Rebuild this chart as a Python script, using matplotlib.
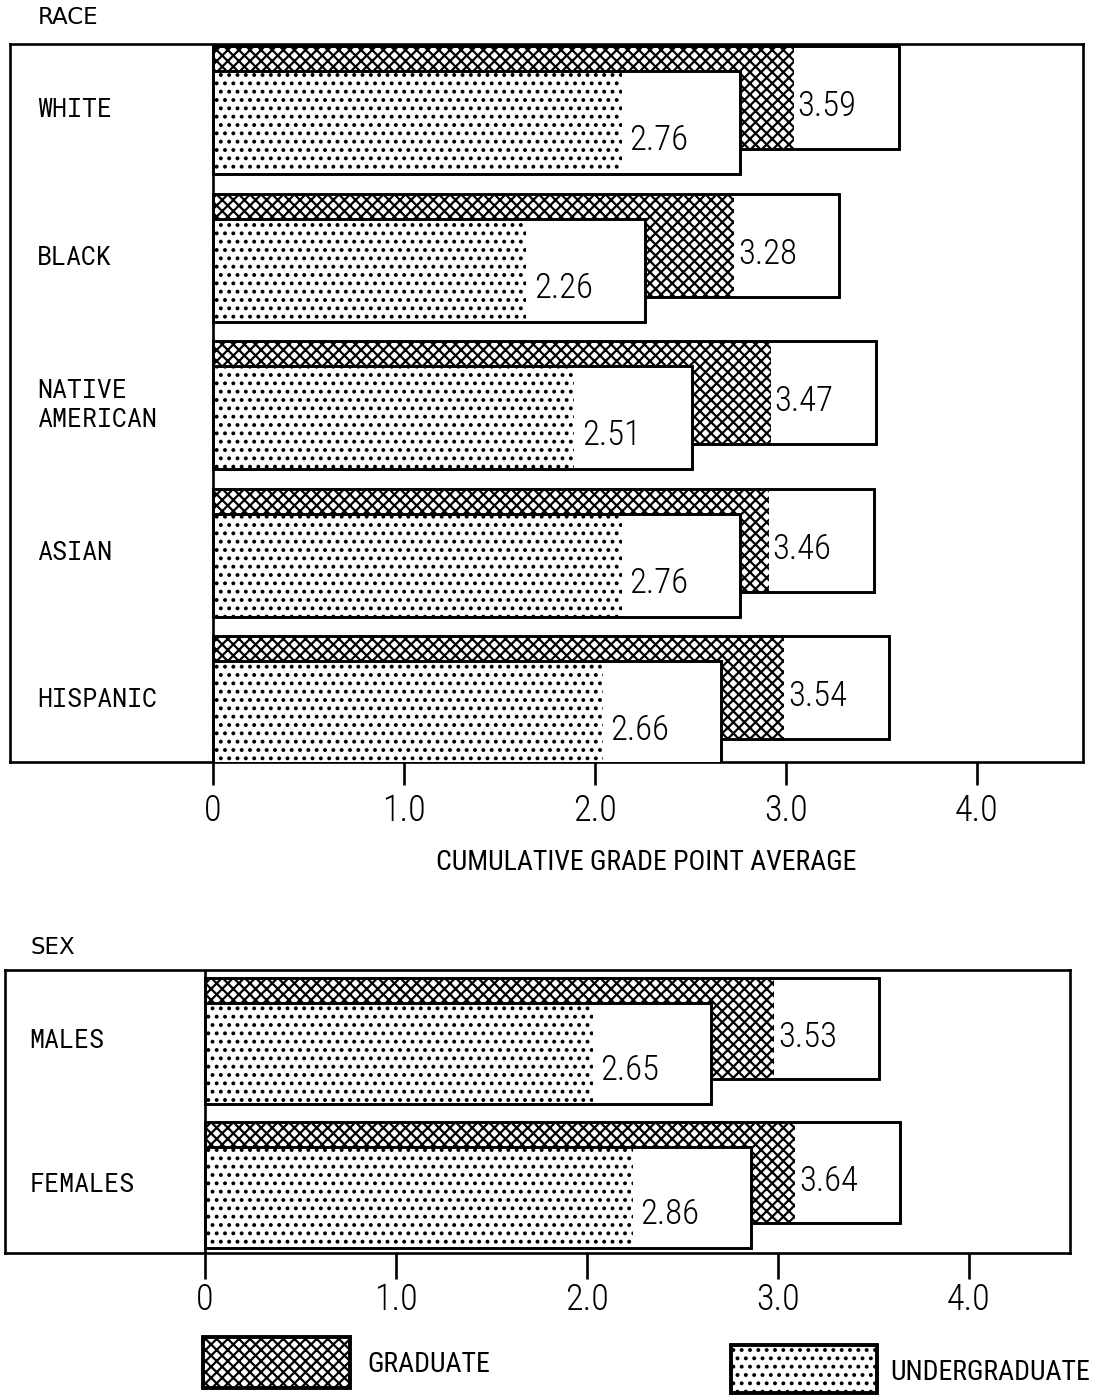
import matplotlib
matplotlib.use("Agg")
import matplotlib.pyplot as plt
from matplotlib.patches import Rectangle

# data
race_groups = ['WHITE', 'BLACK', 'NATIVE\nAMERICAN', 'ASIAN', 'HISPANIC']
race_grad = [3.59, 3.28, 3.47, 3.46, 3.54]
race_under = [2.76, 2.26, 2.51, 2.76, 2.66]

sex_groups = ['MALES', 'FEMALES']
sex_grad = [3.53, 3.64]
sex_under = [2.65, 2.86]

gpa_ticks = [0, 1, 2, 3, 4]
gpa_ticklabels = ['0', '1.0', '2.0', '3.0', '4.0']

NARROW = ['Roboto Condensed', 'Liberation Sans Narrow', 'Roboto', 'DejaVu Sans']
MONO = ['Roboto Mono', 'DejaVu Sans Mono']
LW = 1.9
GAP_G = 0.55   # white space left at end of bar for the value label
GAP_U = 0.62
H = 0.70
OFF = 0.085

plt.rcParams['hatch.linewidth'] = 1.6

W, Hpx = 1094, 1396
fig = plt.figure(figsize=(W / 100, Hpx / 100), dpi=100)


def fig_rect(x0, y0, x1, y1):
    return [x0 / W, 1 - y1 / Hpx, (x1 - x0) / W, (y1 - y0) / Hpx]


def draw_panel(ax, groups, grad, under, xlim, ylim, ticklen, tickpad):
    for i, (name, g, u) in enumerate(zip(groups, grad, under)):
        yg = i - OFF
        yu = i + OFF
        # graduate box + crosshatch
        ax.barh(yg, g, height=H, left=0, facecolor='white', edgecolor='black',
                linewidth=LW, zorder=2)
        ax.barh(yg, g - GAP_G, height=H, left=0, facecolor='none', edgecolor='black',
                linewidth=0, hatch='xxx', zorder=2.1)
        ax.barh(yg, g, height=H, left=0, facecolor='none', edgecolor='black',
                linewidth=LW, zorder=2.2)
        # undergraduate box + dots
        ax.barh(yu, u, height=H, left=0, facecolor='white', edgecolor='black',
                linewidth=LW, zorder=3)
        ax.barh(yu, u - GAP_U, height=H, left=0, facecolor='none', edgecolor='black',
                linewidth=0, hatch='..', zorder=3.1)
        ax.barh(yu, u, height=H, left=0, facecolor='none', edgecolor='black',
                linewidth=LW, zorder=3.2)
        ax.text(g - GAP_G + 0.02, yg + 0.06, '%.2f' % g, fontsize=25, family=NARROW,
                fontweight='light', ha='left', va='center', zorder=4)
        ax.text(u - GAP_U + 0.04, yu + 0.12, '%.2f' % u, fontsize=25, family=NARROW,
                fontweight='light', ha='left', va='center', zorder=4)
        ax.text(-0.92, i, name, fontsize=18, family=MONO, ha='left', va='center',
                linespacing=1.25)
    ax.axvline(0, color='black', linewidth=LW, zorder=5)
    ax.set_xlim(*xlim)
    ax.set_ylim(*ylim)
    ax.set_yticks([])
    ax.set_xticks(gpa_ticks)
    ax.set_xticklabels(gpa_ticklabels, family=NARROW, fontsize=26, fontweight='light')
    ax.tick_params(axis='x', direction='out', length=ticklen, width=LW, pad=tickpad)
    for s in ax.spines.values():
        s.set_linewidth(LW)


ax1 = fig.add_axes(fig_rect(10, 44, 1083, 762))
draw_panel(ax1, race_groups, race_grad, race_under,
           (-1.063, 4.555), (4.42, -0.45), 16.5, 6)

ax2 = fig.add_axes(fig_rect(5, 970, 1070, 1253))
draw_panel(ax2, sex_groups, sex_grad, sex_under,
           (-1.047, 4.529), (1.472, -0.493), 19, 2)

fig.text(646 / W, 1 - 862 / Hpx, 'CUMULATIVE GRADE POINT AVERAGE', family=NARROW,
         fontsize=20, ha='center', va='center')
fig.text(38 / W, 1 - 18 / Hpx, 'RACE', fontsize=16.5, ha='left', va='center')
fig.text(30 / W, 1 - 947 / Hpx, 'SEX', fontsize=16.5, ha='left', va='center')

# legend drawn in pixel space
lax = fig.add_axes([0, 0, 1, 80 / Hpx])
lax.set_xlim(0, W)
lax.set_ylim(Hpx, Hpx - 80)
lax.axis('off')
lax.add_patch(Rectangle((203, 1337), 147, 51, facecolor='white', edgecolor='black',
                        linewidth=0, hatch='xxx'))
lax.add_patch(Rectangle((203, 1337), 147, 51, facecolor='none', edgecolor='black',
                        linewidth=2.8))
lax.text(367, 1364, 'GRADUATE', family=NARROW, fontsize=20, ha='left', va='center')
lax.add_patch(Rectangle((731, 1345), 146, 48, facecolor='white', edgecolor='black',
                        linewidth=0, hatch='..'))
lax.add_patch(Rectangle((731, 1345), 146, 48, facecolor='none', edgecolor='black',
                        linewidth=2.8))
lax.text(890, 1373, 'UNDERGRADUATE', family=NARROW, fontsize=20, ha='left',
         va='center')

fig.savefig('out.png', dpi=100, facecolor='white')
